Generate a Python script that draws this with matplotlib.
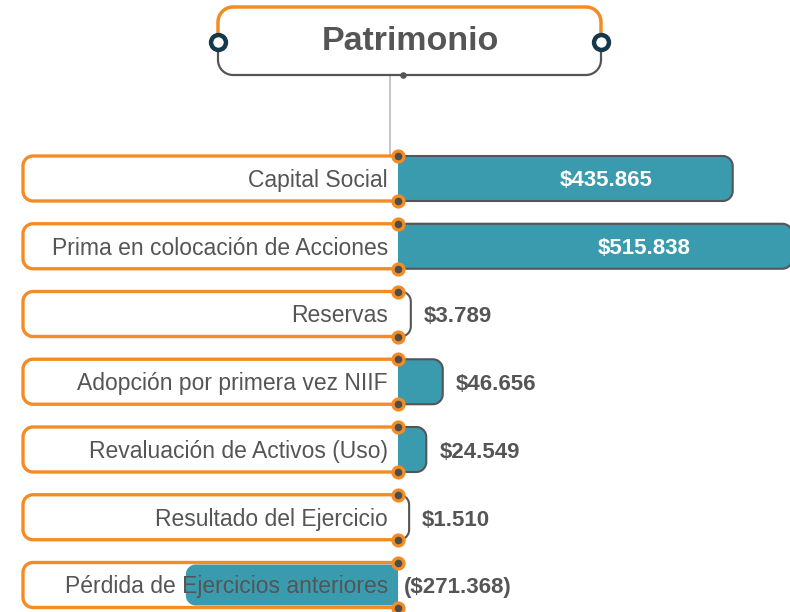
import numpy as np
import matplotlib
matplotlib.use("Agg")
import matplotlib.pyplot as plt
from matplotlib.patches import Polygon

plt.rcParams["font.family"] = ["Liberation Sans", "DejaVu Sans"]

# datos del patrimonio (millones)
categorias = [
    "Capital Social",
    "Prima en colocación de Acciones",
    "Reservas",
    "Adopción por primera vez NIIF",
    "Revaluación de Activos (Uso)",
    "Resultado del Ejercicio",
    "Pérdida de Ejercicios anteriores",
]
valores = [435.865, 515.838, 3.789, 46.656, 24.549, 1.510, -271.368]
titulo = "Patrimonio"

# colores
NARANJA = "#f58c23"
TEAL = "#3a9baf"
GRIS = "#555555"
AZUL = "#15394b"

W, H = 790, 612
fig = plt.figure(figsize=(W / 100, H / 100), dpi=100)
ax = fig.add_axes([0, 0, 1, 1])
ax.axis("off")

cero_px = 398        # posición del cero en x (px)
k = 0.745            # px por unidad
fila0, paso = 178.5, 67.75   # centro de la primera fila y separación (px)
ax.set_xlim(-cero_px / k, (W - cero_px) / k)
ax.set_ylim((H - fila0) / paso, -fila0 / paso)

inv = ax.transData.inverted()


def a_datos(pts):
    """pasa puntos de imagen (y hacia abajo) a coordenadas de datos"""
    pts = np.asarray(pts, dtype=float)
    return inv.transform(np.column_stack([pts[:, 0], H - pts[:, 1]]))


def arco(cx, cy, r, a0, a1, n=14):
    t = np.radians(np.linspace(a0, a1, n))
    # y hacia abajo: sumar r*sin con signo invertido
    return [(cx + r * np.cos(a), cy - r * np.sin(a)) for a in t]


def img_x(v):
    return ax.transData.transform((v, 0))[0]


def img_y(fila):
    return H - ax.transData.transform((0, fila))[1]


# caja del título
tx0, tx1, ty0, ty1, tr = 218, 601, 7, 75, 15
ymid = 42
fondo = [(tx0, ymid)] + arco(tx0 + tr, ty0 + tr, tr, 180, 90) + arco(tx1 - tr, ty0 + tr, tr, 90, 0) \
    + arco(tx1 - tr, ty1 - tr, tr, 0, -90) + arco(tx0 + tr, ty1 - tr, tr, -90, -180)
ax.add_patch(Polygon(a_datos(fondo), closed=True, facecolor="white", edgecolor="none", zorder=1))
arriba = [(tx0, ymid)] + arco(tx0 + tr, ty0 + tr, tr, 180, 90) + arco(tx1 - tr, ty0 + tr, tr, 90, 0) + [(tx1, ymid)]
abajo = [(tx0, ymid)] + arco(tx0 + tr, ty1 - tr, tr, 180, 270) + arco(tx1 - tr, ty1 - tr, tr, 270, 360) + [(tx1, ymid)]
p = a_datos(arriba)
ax.plot(p[:, 0], p[:, 1], color=NARANJA, lw=2.5, zorder=3, solid_capstyle="round")
p = a_datos(abajo)
ax.plot(p[:, 0], p[:, 1], color=GRIS, lw=1.6, zorder=2)
p = a_datos([(tx0, ymid), (tx1, ymid)])
ax.scatter(p[:, 0], p[:, 1], s=115, facecolor="white", edgecolor=AZUL, linewidth=3.2, zorder=5)
p = a_datos([(410, 42)])[0]
ax.text(p[0], p[1], titulo, ha="center", va="center", fontsize=24.5, fontweight="bold",
        color=GRIS, zorder=6)

# conector vertical
p = a_datos([(390, ty1), (390, 156)])
ax.plot(p[:, 0], p[:, 1], color="#bbbbbb", lw=1.2, zorder=0)
p = a_datos([(403, ty1)])
ax.scatter(p[:, 0], p[:, 1], s=14, color=GRIS, zorder=4)

# filas
mh = 22.5     # media altura de la fila (px)
rc = 10       # radio de las esquinas (px)
bx0 = 23      # borde izquierdo de las cajas de texto

for i, (cat, v) in enumerate(zip(categorias, valores)):
    yc = img_y(i)
    yt, yb = yc - mh, yc + mh
    x0 = img_x(0)

    # caja de la etiqueta, abierta por la derecha
    borde = [(x0, yt)] + arco(bx0 + rc, yt + rc, rc, 90, 180) + arco(bx0 + rc, yb - rc, rc, 180, 270) + [(x0, yb)]
    ax.add_patch(Polygon(a_datos(borde), closed=True, facecolor="white", edgecolor="none", zorder=1))
    p = a_datos(borde)
    ax.plot(p[:, 0], p[:, 1], color=NARANJA, lw=2.4, zorder=3)

    xv = img_x(v)
    if v >= 0:
        xe = xv + rc
        barra = [(x0, yt)] + arco(xe - rc, yt + rc, rc, 90, 0) + arco(xe - rc, yb - rc, rc, 0, -90) + [(x0, yb)]
        if xv - x0 > rc:
            ax.add_patch(Polygon(a_datos(barra), closed=True, facecolor=TEAL, edgecolor="none", zorder=2))
        p = a_datos(barra)
        ax.plot(p[:, 0], p[:, 1], color=GRIS, lw=1.5, zorder=2.5)
    else:
        xe = xv - rc
        it, ib = yt + 2, yb - 2
        barra = [(x0, it)] + arco(xe + rc, it + rc, rc, 90, 180) + arco(xe + rc, ib - rc, rc, 180, 270) + [(x0, ib)]
        ax.add_patch(Polygon(a_datos(barra), closed=True, facecolor=TEAL, edgecolor="none", zorder=2))

    # texto de la categoría
    p = a_datos([(388, yc + 2)])[0]
    ax.text(p[0], p[1], cat, ha="right", va="center", fontsize=16.5, color=GRIS, zorder=4)

    # valor
    txt = f"${abs(v):.3f}" if v >= 0 else f"(${abs(v):.3f})"
    estilo = dict(va="center", fontsize=16, fontweight="bold", zorder=6)
    if v > 100:
        p = a_datos([(img_x(0.64 * v), yc + 2)])[0]
        ax.text(p[0], p[1], txt, ha="center", color="white", **estilo)
    elif v >= 0:
        p = a_datos([(xe + 13, yc + 3)])[0]
        ax.text(p[0], p[1], txt, ha="left", color=GRIS, **estilo)
    else:
        p = a_datos([(x0 + 6, yc + 2)])[0]
        ax.text(p[0], p[1], txt, ha="left", color=GRIS, **estilo)

    # puntos de unión en el eje cero
    ax.scatter([0, 0], [i - mh / paso, i + mh / paso], s=105, color=NARANJA, zorder=5, linewidths=0)
    ax.scatter([0, 0], [i - mh / paso, i + mh / paso], s=30, color="#4d4d4d", zorder=5.5, linewidths=0)

fig.savefig("out.png", dpi=100)
